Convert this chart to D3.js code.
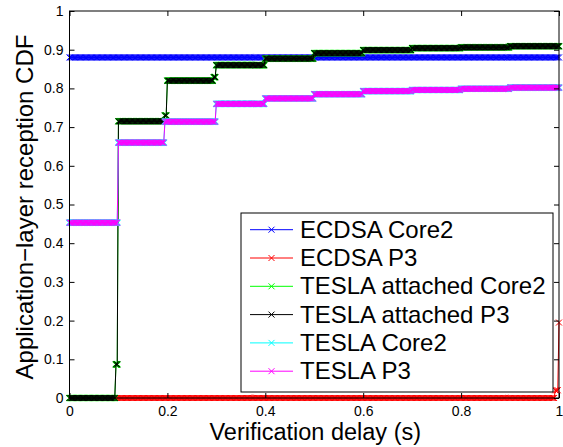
<!DOCTYPE html>
<html>
<head>
<meta charset="utf-8">
<script src="https://cdn.jsdelivr.net/npm/d3@7"></script>
<style>
  body { margin: 0; background: #fff; }
  svg { display: block; font-family: "Liberation Sans", Arial, Helvetica, sans-serif; }
</style>
</head>
<body>
<div id="chart"></div>
<script>
// Step levels of each CDF, one value per 0.1 s interval [0,0.1), [0.1,0.2), ... [0.9,1.0]
const intervalStarts = [0, 0.1, 0.2, 0.3, 0.4, 0.5, 0.6, 0.7, 0.8, 0.9];
const ecdsaCore2 = [0.88, 0.88, 0.88, 0.88, 0.88, 0.88, 0.88, 0.88, 0.88, 0.88];
const ecdsaP3 = [0, 0, 0, 0, 0, 0, 0, 0, 0, 0];
const teslaAttachedCore2 = [0, 0.715, 0.82, 0.86, 0.877, 0.891, 0.899, 0.904, 0.906, 0.909];
const teslaAttachedP3 = [0, 0.715, 0.82, 0.86, 0.877, 0.891, 0.899, 0.904, 0.906, 0.909];
const teslaCore2 = [0.453, 0.66, 0.714, 0.76, 0.774, 0.785, 0.793, 0.796, 0.799, 0.802];
const teslaP3 = [0.453, 0.66, 0.714, 0.76, 0.774, 0.785, 0.793, 0.796, 0.799, 0.802];

// sample points that sit part way up a step: [delay, cdf]
const ecdsaP3Points = [[0.9925, 0.02], [0.995, 0.02], [0.9975, 0.02], [1.0, 0.195]];
const teslaAttachedPoints = [[0.095, 0.087], [0.0975, 0.087], [0.195, 0.73], [0.1975, 0.73], [0.295, 0.829], [0.2975, 0.829]];
const teslaPoints = [[0.195, 0.714], [0.1975, 0.714]];

const seriesNames = ["ECDSA Core2", "ECDSA P3", "TESLA attached Core2", "TESLA attached P3", "TESLA Core2", "TESLA P3"];
const seriesColors = ["#0000ff", "#ff0000", "#00ff00", "#000000", "#00ffff", "#ff00ff"];

const xTicks = [0, 0.2, 0.4, 0.6, 0.8, 1];
const yTicks = [0, 0.1, 0.2, 0.3, 0.4, 0.5, 0.6, 0.7, 0.8, 0.9, 1];

// delays at which the CDF was evaluated (every 2.5 ms)
const delays = d3.range(0, 401).map(i => i / 400);

const width = 563, height = 447;
const margin = { left: 69.5, right: 4, top: 11, bottom: 49 };

function sampleSeries(levels, points) {
  let extra = new Map(points.map(p => [Math.round(p[0] * 4000), p[1]]));
  return delays.map(function(x) {
    let key = Math.round(x * 4000);
    if (extra.has(key)) return [x, extra.get(key)];
    let idx = Math.min(levels.length - 1, Math.floor(key / 400));
    return [x, levels[idx]];
  });
}

const series = [
  sampleSeries(ecdsaCore2, []),
  sampleSeries(ecdsaP3, ecdsaP3Points),
  sampleSeries(teslaAttachedCore2, teslaAttachedPoints),
  sampleSeries(teslaAttachedP3, teslaAttachedPoints),
  sampleSeries(teslaCore2, teslaPoints),
  sampleSeries(teslaP3, teslaPoints)
];

const svg = d3.select("#chart").append("svg")
  .attr("width", width)
  .attr("height", height);

const x = d3.scaleLinear().domain([0, 1]).range([margin.left, width - margin.right]);
const y = d3.scaleLinear().domain([0, 1]).range([height - margin.bottom, margin.top]);

const fmt = d3.format("~g");

const line = d3.line().x(d => x(d[0])).y(d => y(d[1]));

function xMark(g, color, sw) {
  // 'x' markers, one per sample
  const s = 3;
  g.append("path")
    .attr("fill", "none")
    .attr("stroke", color)
    .attr("stroke-width", sw)
    .attr("d", g.datum().map(function(d) {
      let px = x(d[0]), py = y(d[1]);
      return `M${px - s},${py - s}L${px + s},${py + s}M${px - s},${py + s}L${px + s},${py - s}`;
    }).join(""));
}

const plot = svg.append("g");
series.forEach(function(data, i) {
  let g = plot.append("g").datum(data);
  g.append("path")
    .attr("fill", "none")
    .attr("stroke", seriesColors[i])
    .attr("stroke-width", 1)
    .attr("d", line);
  // under-series drawn a touch wider so they show at the edges
  xMark(g, seriesColors[i], (i === 2 || i === 4) ? 1.6 : 1);
});

// axes: inward ticks on all four sides
const tickLen = 5;
svg.append("g")
  .attr("transform", `translate(0,${y(0)})`)
  .call(d3.axisBottom(x).tickValues(xTicks).tickFormat(fmt).tickSizeInner(-tickLen).tickSizeOuter(0).tickPadding(8))
  .call(g => g.select(".domain").remove())
  .call(g => g.selectAll("text").attr("font-size", 14).attr("fill", "#000").attr("font-family", null));

svg.append("g")
  .attr("transform", `translate(0,${y(1)})`)
  .call(d3.axisTop(x).tickValues(xTicks).tickFormat("").tickSizeInner(-tickLen).tickSizeOuter(0))
  .call(g => g.select(".domain").remove());

svg.append("g")
  .attr("transform", `translate(${x(0)},0)`)
  .call(d3.axisLeft(y).tickValues(yTicks).tickFormat(fmt).tickSizeInner(-tickLen).tickSizeOuter(0).tickPadding(6))
  .call(g => g.select(".domain").remove())
  .call(g => g.selectAll("text").attr("font-size", 14).attr("fill", "#000").attr("font-family", null));

svg.append("g")
  .attr("transform", `translate(${x(1)},0)`)
  .call(d3.axisRight(y).tickValues(yTicks).tickFormat("").tickSizeInner(-tickLen).tickSizeOuter(0))
  .call(g => g.select(".domain").remove());

svg.selectAll(".tick line").attr("stroke", "#000");

svg.append("rect")
  .attr("x", x(0)).attr("y", y(1))
  .attr("width", x(1) - x(0)).attr("height", y(0) - y(1))
  .attr("fill", "none")
  .attr("stroke", "#000")
  .attr("stroke-width", 1);

// axis titles
svg.append("text")
  .attr("x", (x(0) + x(1)) / 2 + 1)
  .attr("y", 440)
  .attr("text-anchor", "middle")
  .attr("font-size", 23.5)
  .text("Verification delay (s)");

svg.append("text")
  .attr("transform", "translate(33,207) rotate(-90)")
  .attr("text-anchor", "middle")
  .attr("font-size", 24)
  .text("Application\u2212layer reception CDF");

// legend
const legend = svg.append("g");
legend.append("rect")
  .attr("x", 241).attr("y", 213)
  .attr("width", 312).attr("height", 179)
  .attr("fill", "#fff")
  .attr("stroke", "#000")
  .attr("stroke-width", 1);

seriesNames.forEach(function(name, i) {
  let base = 237.7 + i * 28.3;
  let ly = base - 8;
  let row = legend.append("g");
  row.append("line")
    .attr("x1", 250).attr("x2", 293)
    .attr("y1", ly).attr("y2", ly)
    .attr("stroke", seriesColors[i])
    .attr("stroke-width", 1);
  row.append("path")
    .attr("d", `M268.5,${ly - 3}L274.5,${ly + 3}M268.5,${ly + 3}L274.5,${ly - 3}`)
    .attr("stroke", seriesColors[i])
    .attr("stroke-width", 1);
  row.append("text")
    .attr("x", 300)
    .attr("y", base)
    .attr("font-size", 24)
    .text(name);
});
</script>
</body>
</html>
